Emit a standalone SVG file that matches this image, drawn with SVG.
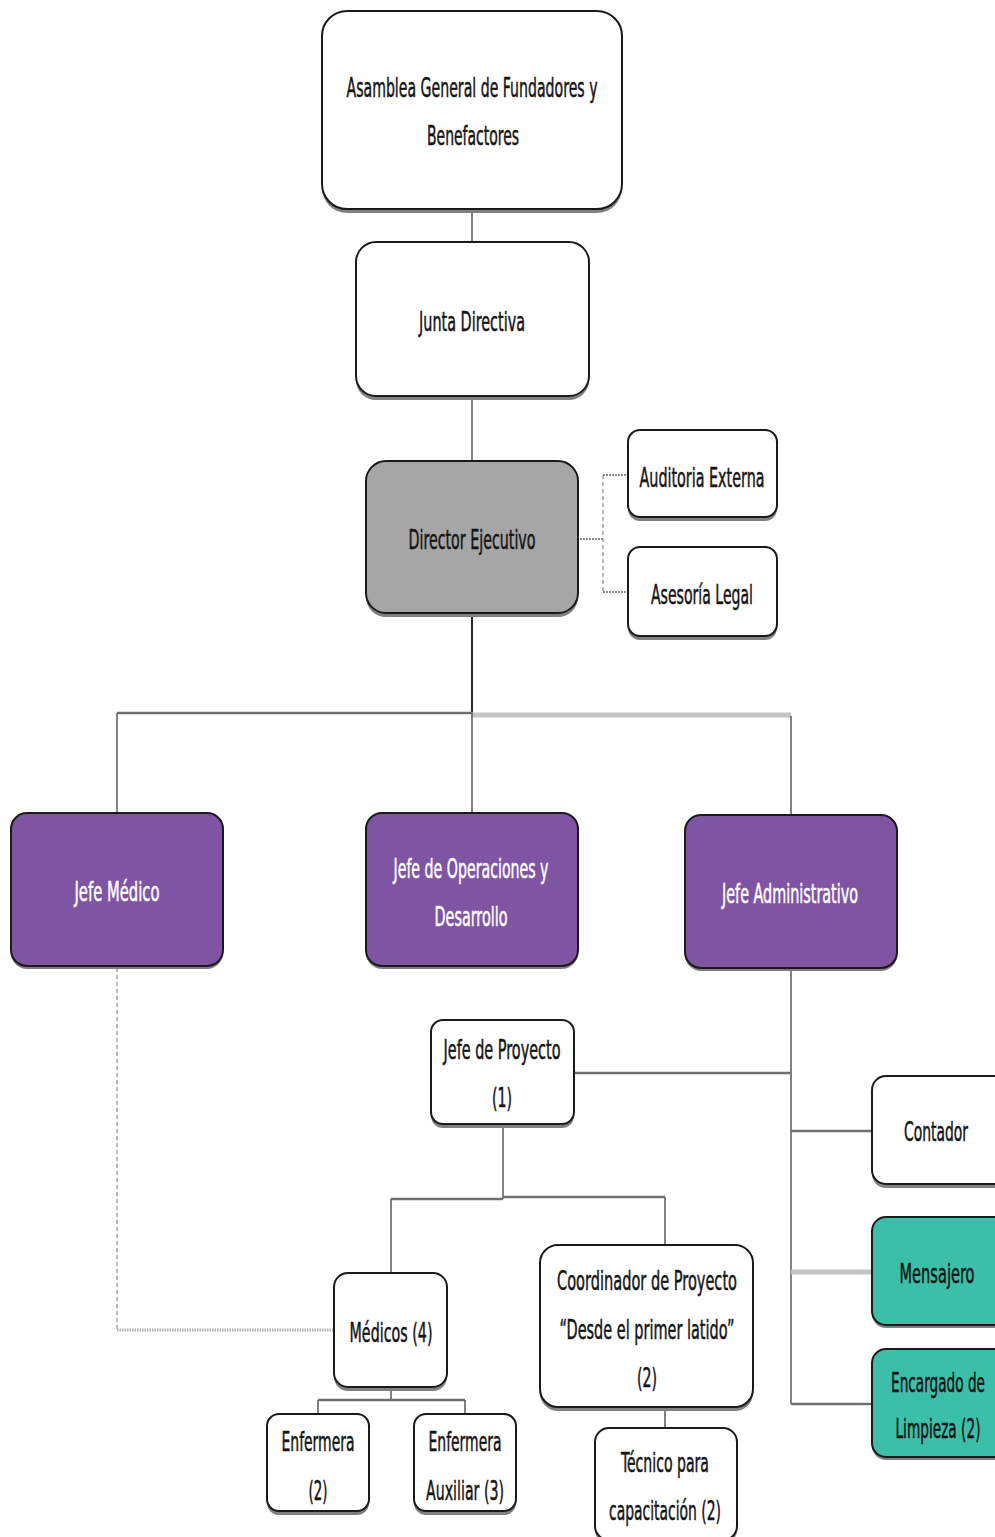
<svg xmlns="http://www.w3.org/2000/svg" width="995" height="1537" viewBox="0 0 995 1537">
<style>
text{font-family:"Liberation Sans Narrow","DejaVu Sans Condensed","Liberation Sans",sans-serif;font-size:27px;text-anchor:middle;fill:#141414;stroke:#141414;stroke-width:0.5}
text.w{fill:#ffffff;stroke:#ffffff}
.box{fill:#ffffff;stroke:#1a1a1a;stroke-width:2}
.grey{fill:#a6a6a6;stroke:#1a1a1a;stroke-width:2}
.pur{fill:#7f55a3;stroke:#1a1a1a;stroke-width:2}
.teal{fill:#3cbfa8;stroke:#1a1a1a;stroke-width:2}
.sh{fill:#808080}
.ln{fill:none;stroke:#595959;stroke-width:1.5}
.ln2{fill:none;stroke:#6f6f6f;stroke-width:2.5}
.lt{fill:none;stroke:#c4c4c4;stroke-width:5}
.dash{fill:none;stroke:#8c8c8c;stroke-width:1.2;stroke-dasharray:4 3}
.dot{fill:none;stroke:#8c8c8c;stroke-width:2;stroke-dasharray:2 1}
.dotl{fill:none;stroke:#b0b0b0;stroke-width:3;stroke-dasharray:1.5 1}
</style>
<g id="connectors">
<path class="ln" d="M472 209V242M472 396V461"/>
<path d="M472 613V713" fill="none" stroke="#111" stroke-width="1.8"/>
<path class="ln2" d="M117 713H472"/>
<path class="lt" d="M472 715H791"/>
<path class="ln" d="M117 713V813M472 713V813M791 716V815"/>
<path class="dot" d="M580 539H603" stroke-width="3"/>
<path class="dash" d="M603 475V592"/>
<path class="dot" d="M603 475H628M603 592H628"/>
<path class="ln" d="M791 968V1404"/>
<path class="ln2" d="M574 1073H791"/>
<path class="ln2" d="M791 1131H872"/>
<path class="lt" d="M791 1272H872" stroke-width="4"/>
<path class="ln2" d="M791 1404H872"/>
<path class="ln" d="M503 1124V1199"/>
<path class="ln2" d="M391 1199H503"/>
<path class="ln2" d="M503 1197H665"/>
<path class="ln" d="M391 1199V1274M665 1197V1245"/>
<path class="dash" d="M117 968V1330"/>
<path class="dotl" d="M117 1330H334"/>
<path class="ln" d="M391 1387V1400M665 1407V1428"/>
<path class="ln2" d="M318 1400H465"/>
<path class="ln" d="M318 1400V1414M465 1400V1414"/>
</g>
<g id="asamblea">
<rect class="sh" x="322" y="15" width="300" height="198" rx="25"/>
<rect class="box" x="322" y="11" width="300" height="198" rx="25"/>
<text x="472" y="97" textLength="251" lengthAdjust="spacingAndGlyphs">Asamblea General de Fundadores y</text>
<text x="473" y="145" textLength="92" lengthAdjust="spacingAndGlyphs">Benefactores</text>
</g>
<g id="junta">
<rect class="sh" x="356" y="246" width="233" height="154" rx="20"/>
<rect class="box" x="356" y="242" width="233" height="154" rx="20"/>
<text x="472" y="331" textLength="106" lengthAdjust="spacingAndGlyphs">Junta Directiva</text>
</g>
<g id="director">
<rect class="sh" x="366" y="465" width="212" height="152" rx="20"/>
<rect class="grey" x="366" y="461" width="212" height="152" rx="20"/>
<text x="472" y="549" textLength="127" lengthAdjust="spacingAndGlyphs">Director Ejecutivo</text>
</g>
<g id="auditoria">
<rect class="sh" x="628" y="434" width="149" height="87" rx="12"/>
<rect class="box" x="628" y="430" width="149" height="87" rx="12"/>
<text x="702" y="487" textLength="125" lengthAdjust="spacingAndGlyphs">Auditoria Externa</text>
</g>
<g id="asesoria">
<rect class="sh" x="628" y="551" width="149" height="89" rx="12"/>
<rect class="box" x="628" y="547" width="149" height="89" rx="12"/>
<text x="702" y="604" textLength="102" lengthAdjust="spacingAndGlyphs">Asesoría Legal</text>
</g>
<g id="jefe-medico">
<rect class="sh" x="11" y="816" width="212" height="153" rx="16"/>
<rect class="pur" x="11" y="813" width="212" height="153" rx="16"/>
<text class="w" x="117" y="901" textLength="85" lengthAdjust="spacingAndGlyphs">Jefe Médico</text>
</g>
<g id="jefe-operaciones">
<rect class="sh" x="366" y="816" width="212" height="153" rx="16"/>
<rect class="pur" x="366" y="813" width="212" height="153" rx="16"/>
<text class="w" x="471" y="878" textLength="155" lengthAdjust="spacingAndGlyphs">Jefe de Operaciones y</text>
<text class="w" x="471" y="926" textLength="73" lengthAdjust="spacingAndGlyphs">Desarrollo</text>
</g>
<g id="jefe-administrativo">
<rect class="sh" x="685" y="818" width="212" height="153" rx="16"/>
<rect class="pur" x="685" y="815" width="212" height="153" rx="16"/>
<text class="w" x="790" y="903" textLength="136" lengthAdjust="spacingAndGlyphs">Jefe Administrativo</text>
</g>
<g id="jefe-proyecto">
<rect class="sh" x="431" y="1024" width="143" height="104" rx="12"/>
<rect class="box" x="431" y="1020" width="143" height="104" rx="12"/>
<text x="502" y="1059" textLength="117" lengthAdjust="spacingAndGlyphs">Jefe de Proyecto</text>
<text x="502" y="1107" textLength="20" lengthAdjust="spacingAndGlyphs">(1)</text>
</g>
<g id="contador">
<rect class="sh" x="872" y="1080" width="140" height="108" rx="14"/>
<rect class="box" x="872" y="1076" width="140" height="108" rx="14"/>
<text x="936" y="1141" textLength="64" lengthAdjust="spacingAndGlyphs">Contador</text>
</g>
<g id="mensajero">
<rect class="sh" x="872" y="1220" width="140" height="108" rx="14"/>
<rect class="teal" x="872" y="1217" width="140" height="108" rx="14"/>
<text x="937" y="1283" textLength="75" lengthAdjust="spacingAndGlyphs">Mensajero</text>
</g>
<g id="limpieza">
<rect class="sh" x="872" y="1352" width="140" height="108" rx="14"/>
<rect class="teal" x="872" y="1349" width="140" height="108" rx="14"/>
<text x="938" y="1392" textLength="94" lengthAdjust="spacingAndGlyphs">Encargado de</text>
<text x="938" y="1438" textLength="85" lengthAdjust="spacingAndGlyphs">Limpieza (2)</text>
</g>
<g id="medicos">
<rect class="sh" x="334" y="1277" width="113" height="114" rx="14"/>
<rect class="box" x="334" y="1273" width="113" height="114" rx="14"/>
<text x="391" y="1342" textLength="83" lengthAdjust="spacingAndGlyphs">Médicos (4)</text>
</g>
<g id="coordinador">
<rect class="sh" x="540" y="1249" width="213" height="162" rx="18"/>
<rect class="box" x="540" y="1245" width="213" height="162" rx="18"/>
<text x="647" y="1290" textLength="180" lengthAdjust="spacingAndGlyphs">Coordinador  de Proyecto</text>
<text x="647" y="1339" textLength="175" lengthAdjust="spacingAndGlyphs">“Desde el primer latido”</text>
<text x="647" y="1387" textLength="20" lengthAdjust="spacingAndGlyphs">(2)</text>
</g>
<g id="enfermera">
<rect class="sh" x="267" y="1418" width="102" height="97" rx="12"/>
<rect class="box" x="267" y="1414" width="102" height="97" rx="12"/>
<text x="318" y="1451" textLength="73" lengthAdjust="spacingAndGlyphs">Enfermera</text>
<text x="318" y="1500" textLength="19" lengthAdjust="spacingAndGlyphs">(2)</text>
</g>
<g id="enfermera-auxiliar">
<rect class="sh" x="414" y="1418" width="102" height="97" rx="12"/>
<rect class="box" x="414" y="1414" width="102" height="97" rx="12"/>
<text x="465" y="1451" textLength="73" lengthAdjust="spacingAndGlyphs">Enfermera</text>
<text x="465" y="1500" textLength="78" lengthAdjust="spacingAndGlyphs">Auxiliar (3)</text>
</g>
<g id="tecnico">
<rect class="sh" x="595" y="1432" width="142" height="112" rx="14"/>
<rect class="box" x="595" y="1428" width="142" height="112" rx="14"/>
<text x="665" y="1472" textLength="88" lengthAdjust="spacingAndGlyphs">Técnico para</text>
<text x="665" y="1520" textLength="112" lengthAdjust="spacingAndGlyphs">capacitación (2)</text>
</g>
</svg>
